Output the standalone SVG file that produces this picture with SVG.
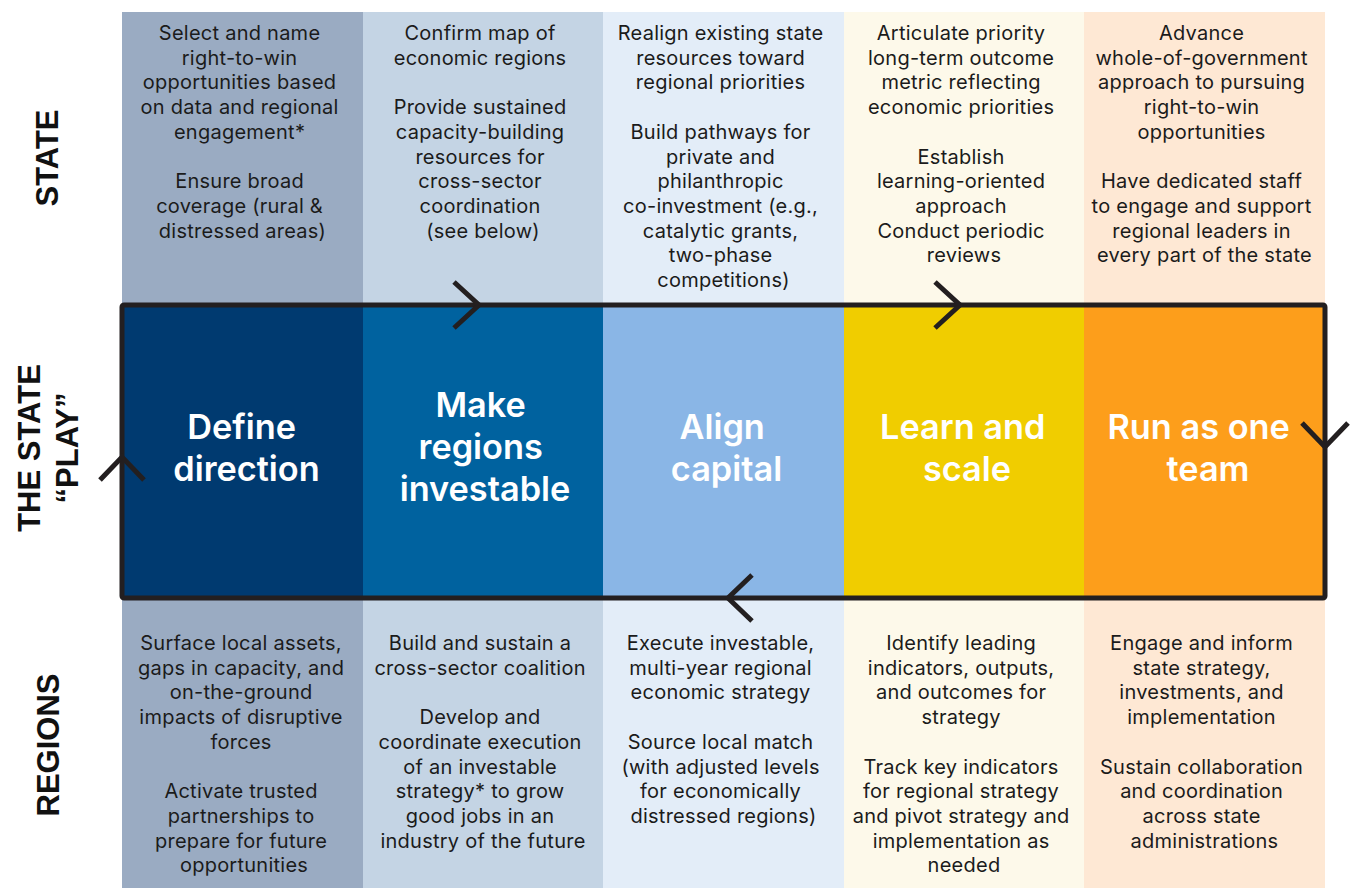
<svg xmlns="http://www.w3.org/2000/svg" width="1351" height="888" viewBox="0 0 1351 888">
  <style>
    .body { font-family: Inter, "Noto Sans", "Liberation Sans", sans-serif; font-size: 20px; letter-spacing: 0.25px; fill: #1b1b1b; text-anchor: middle; }
    .phase { font-family: Inter, "Noto Sans", "Liberation Sans", sans-serif; font-size: 34.3px; font-weight: 600; fill: #ffffff; text-anchor: middle; }
    .side { font-family: "Liberation Sans", Arial, sans-serif; font-size: 31px; font-weight: bold; fill: #111111; text-anchor: middle; }
    .loop { fill: none; stroke: #231f20; stroke-width: 5; stroke-linejoin: round; }
    .chev { fill: none; stroke: #231f20; stroke-width: 5; stroke-linecap: butt; stroke-linejoin: miter; }
  </style>
  <rect width="1351" height="888" fill="#ffffff"/>

  <!-- Row labels -->
  <g id="row-labels">
    <text class="side" transform="translate(58,158) rotate(-90)">STATE</text>
    <text class="side" transform="translate(40,448) rotate(-90)">THE STATE</text>
    <text class="side" transform="translate(78,448) rotate(-90)">“PLAY”</text>
    <text class="side" transform="translate(59,745) rotate(-90)">REGIONS</text>
  </g>

  <!-- Column 1: Define direction -->
  <g id="define-direction">
    <rect x="122" y="12" width="241" height="293" fill="#9aabc2"/>
    <rect x="122" y="305" width="241" height="293" fill="#003a70"/>
    <rect x="122" y="598" width="241" height="290" fill="#9aabc2"/>
    <text class="body" x="242.5" y="40">
      <tspan x="242.5" dy="0">Select and name</tspan>
      <tspan x="242.5" dy="24.7">right-to-win</tspan>
      <tspan x="242.5" dy="24.7">opportunities based</tspan>
      <tspan x="242.5" dy="24.7">on data and regional</tspan>
      <tspan x="242.5" dy="24.7">engagement*</tspan>
      <tspan x="242.5" dy="49.4">Ensure broad</tspan>
      <tspan x="242.5" dy="24.7">coverage (rural &amp;</tspan>
      <tspan x="242.5" dy="24.7">distressed areas)</tspan>
    </text>
    <text class="phase" x="246" y="439">
      <tspan x="246" dy="0">Define</tspan>
      <tspan x="246.5" dy="42">direction</tspan>
    </text>
    <text class="body" x="244" y="650">
      <tspan x="244" dy="0">Surface local assets,</tspan>
      <tspan x="244" dy="24.7">gaps in capacity, and</tspan>
      <tspan x="244" dy="24.7">on-the-ground</tspan>
      <tspan x="244" dy="24.7">impacts of disruptive</tspan>
      <tspan x="244" dy="24.7">forces</tspan>
      <tspan x="244" dy="49.4">Activate trusted</tspan>
      <tspan x="244" dy="24.7">partnerships to</tspan>
      <tspan x="244" dy="24.7">prepare for future</tspan>
      <tspan x="244" dy="24.7">opportunities</tspan>
    </text>
  </g>

  <!-- Column 2: Make regions investable -->
  <g id="make-regions-investable">
    <rect x="363" y="12" width="240" height="293" fill="#c4d4e4"/>
    <rect x="363" y="305" width="240" height="293" fill="#00629f"/>
    <rect x="363" y="598" width="240" height="290" fill="#c4d4e4"/>
    <text class="body" x="483" y="40">
      <tspan x="483" dy="0">Confirm map of</tspan>
      <tspan x="483" dy="24.7">economic regions</tspan>
      <tspan x="483" dy="49.4">Provide sustained</tspan>
      <tspan x="483" dy="24.7">capacity-building</tspan>
      <tspan x="483" dy="24.7">resources for</tspan>
      <tspan x="483" dy="24.7">cross-sector</tspan>
      <tspan x="483" dy="24.7">coordination</tspan>
      <tspan x="483" dy="24.7">(see below)</tspan>
    </text>
    <text class="phase" x="485" y="417">
      <tspan x="485" dy="0">Make</tspan>
      <tspan x="485" dy="42">regions</tspan>
      <tspan x="485" dy="42">investable</tspan>
    </text>
    <text class="body" x="483" y="650">
      <tspan x="483" dy="0">Build and sustain a</tspan>
      <tspan x="483" dy="24.7">cross-sector coalition</tspan>
      <tspan x="483" dy="49.4">Develop and</tspan>
      <tspan x="483" dy="24.7">coordinate execution</tspan>
      <tspan x="483" dy="24.7">of an investable</tspan>
      <tspan x="483" dy="24.7">strategy* to grow</tspan>
      <tspan x="483" dy="24.7">good jobs in an</tspan>
      <tspan x="483" dy="24.7">industry of the future</tspan>
    </text>
  </g>

  <!-- Column 3: Align capital -->
  <g id="align-capital">
    <rect x="603" y="12" width="241" height="293" fill="#e3edf8"/>
    <rect x="603" y="305" width="241" height="293" fill="#8ab6e6"/>
    <rect x="603" y="598" width="241" height="290" fill="#e3edf8"/>
    <text class="body" x="723.5" y="40">
      <tspan x="723.5" dy="0">Realign existing state</tspan>
      <tspan x="723.5" dy="24.7">resources toward</tspan>
      <tspan x="723.5" dy="24.7">regional priorities</tspan>
      <tspan x="723.5" dy="49.4">Build pathways for</tspan>
      <tspan x="723.5" dy="24.7">private and</tspan>
      <tspan x="723.5" dy="24.7">philanthropic</tspan>
      <tspan x="723.5" dy="24.7">co-investment (e.g.,</tspan>
      <tspan x="723.5" dy="24.7">catalytic grants,</tspan>
      <tspan x="723.5" dy="24.7">two-phase</tspan>
      <tspan x="723.5" dy="24.7">competitions)</tspan>
    </text>
    <text class="phase" x="726.5" y="439">
      <tspan x="726.5" dy="0">Align</tspan>
      <tspan x="726.5" dy="42">capital</tspan>
    </text>
    <text class="body" x="723.5" y="650">
      <tspan x="723.5" dy="0">Execute investable,</tspan>
      <tspan x="723.5" dy="24.7">multi-year regional</tspan>
      <tspan x="723.5" dy="24.7">economic strategy</tspan>
      <tspan x="723.5" dy="49.4">Source local match</tspan>
      <tspan x="723.5" dy="24.7">(with adjusted levels</tspan>
      <tspan x="723.5" dy="24.7">for economically</tspan>
      <tspan x="723.5" dy="24.7">distressed regions)</tspan>
    </text>
  </g>

  <!-- Column 4: Learn and scale -->
  <g id="learn-and-scale">
    <rect x="844" y="12" width="240" height="293" fill="#fdf9ea"/>
    <rect x="844" y="305" width="240" height="293" fill="#f0cd00"/>
    <rect x="844" y="598" width="240" height="290" fill="#fdf9ea"/>
    <text class="body" x="964" y="40">
      <tspan x="964" dy="0">Articulate priority</tspan>
      <tspan x="964" dy="24.7">long-term outcome</tspan>
      <tspan x="964" dy="24.7">metric reflecting</tspan>
      <tspan x="964" dy="24.7">economic priorities</tspan>
      <tspan x="964" dy="49.4">Establish</tspan>
      <tspan x="964" dy="24.7">learning-oriented</tspan>
      <tspan x="964" dy="24.7">approach</tspan>
      <tspan x="964" dy="24.7">Conduct periodic</tspan>
      <tspan x="964" dy="24.7">reviews</tspan>
    </text>
    <text class="phase" x="967" y="439">
      <tspan x="967" dy="0">Learn and</tspan>
      <tspan x="967" dy="42">scale</tspan>
    </text>
    <text class="body" x="964" y="650">
      <tspan x="964" dy="0">Identify leading</tspan>
      <tspan x="964" dy="24.7">indicators, outputs,</tspan>
      <tspan x="964" dy="24.7">and outcomes for</tspan>
      <tspan x="964" dy="24.7">strategy</tspan>
      <tspan x="964" dy="49.4">Track key indicators</tspan>
      <tspan x="964" dy="24.7">for regional strategy</tspan>
      <tspan x="964" dy="24.7">and pivot strategy and</tspan>
      <tspan x="964" dy="24.7">implementation as</tspan>
      <tspan x="964" dy="24.7">needed</tspan>
    </text>
  </g>

  <!-- Column 5: Run as one team -->
  <g id="run-as-one-team">
    <rect x="1084" y="12" width="241" height="293" fill="#fee8d4"/>
    <rect x="1084" y="305" width="241" height="293" fill="#fd9e1b"/>
    <rect x="1084" y="598" width="241" height="290" fill="#fee8d4"/>
    <text class="body" x="1204.5" y="40">
      <tspan x="1204.5" dy="0">Advance</tspan>
      <tspan x="1204.5" dy="24.7">whole-of-government</tspan>
      <tspan x="1204.5" dy="24.7">approach to pursuing</tspan>
      <tspan x="1204.5" dy="24.7">right-to-win</tspan>
      <tspan x="1204.5" dy="24.7">opportunities</tspan>
      <tspan x="1204.5" dy="49.4">Have dedicated staff</tspan>
      <tspan x="1204.5" dy="24.7">to engage and support</tspan>
      <tspan x="1204.5" dy="24.7">regional leaders in</tspan>
      <tspan x="1204.5" dy="24.7">every part of the state</tspan>
    </text>
    <text class="phase" x="1203" y="439">
      <tspan x="1203" dy="0">Run as one</tspan>
      <tspan x="1208" dy="42">team</tspan>
    </text>
    <text class="body" x="1204.5" y="650">
      <tspan x="1204.5" dy="0">Engage and inform</tspan>
      <tspan x="1204.5" dy="24.7">state strategy,</tspan>
      <tspan x="1204.5" dy="24.7">investments, and</tspan>
      <tspan x="1204.5" dy="24.7">implementation</tspan>
      <tspan x="1204.5" dy="49.4">Sustain collaboration</tspan>
      <tspan x="1204.5" dy="24.7">and coordination</tspan>
      <tspan x="1204.5" dy="24.7">across state</tspan>
      <tspan x="1204.5" dy="24.7">administrations</tspan>
    </text>
  </g>

  <!-- Cycle loop with direction chevrons -->
  <g id="connectors">
    <rect class="loop" x="122" y="305" width="1203" height="293" rx="2"/>
    <polyline class="chev" points="454,282 479,305 454,328"/>
    <polyline class="chev" points="935,282 960,305 935,328"/>
    <polyline class="chev" points="1302,423 1325,447 1348,423"/>
    <polyline class="chev" points="752,575 728,598 752,621"/>
    <polyline class="chev" points="100,480 122,457 144,480"/>
  </g>
</svg>
